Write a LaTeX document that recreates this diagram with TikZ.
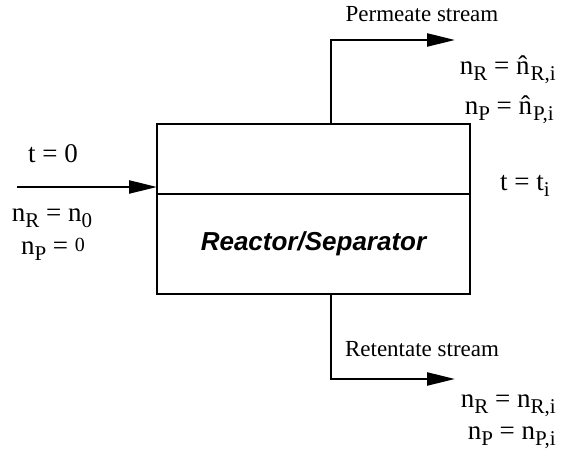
\documentclass[tikz,border=0pt]{standalone}
\usepackage{fontspec}
\setmainfont{Liberation Serif}
\setsansfont{Liberation Sans}
\usetikzlibrary{arrows.meta,positioning}
\newcommand\lo[1]{\raisebox{-0.45ex}{\fontsize{10.5}{10.5}\selectfont #1}}
\newcommand\hatn{n\char"0302\kern0.5pt}
\tikzset{
  vessel/.style={
    rectangle, draw=black, line width=1pt,
    minimum width=156.5pt, inner sep=0pt, outer sep=0pt
  },
  flow/.style={-{Triangle[length=14pt,width=6.5pt]}, line width=1.2pt},
  eqn/.style={font=\fontsize{13.5}{15}\selectfont, inner sep=0pt},
  stream/.style={font=\fontsize{11.5}{13}\selectfont, inner sep=0pt}
}

\begin{document}
\begin{tikzpicture}[x=0.5pt, y=-0.5pt]
  \useasboundingbox (0,0) rectangle (578,458);

  % reactor/separator vessel
  \node[vessel, minimum height=35pt, anchor=north west] (top) at (157,124) {};
  \node[vessel, minimum height=50pt, below=0pt of top,
        font=\sffamily\bfseries\itshape\fontsize{13}{15}\selectfont] (vessel) {Reactor/Separator};

  % stream ends
  \coordinate (feed)     at (17,187);
  \coordinate (permbend) at (331,40);
  \coordinate (permout)  at (455,40);
  \coordinate (retbend)  at (331,379);
  \coordinate (retout)   at (455,379);

  % arrows
  \draw[flow] (feed) -- (feed -| top.west);
  \draw[flow] (permbend |- top.north) -- (permbend) -- (permout);
  \draw[flow] (retbend |- vessel.south) -- (retbend) -- (retout);

  % stream labels
  \node[stream, anchor=base] (permlbl) at (422,22)  {Permeate stream};
  \node[stream, anchor=base] (retlbl)  at (422,357) {Retentate stream};

  % initial state
  \node[eqn, anchor=base] (t0)  at (53,163) {t = 0};
  \node[eqn, anchor=base] (nR0) at (52,222) {n\lo{R} = n\lo{0}};
  \node[eqn, anchor=base] (nP0) at (53,255) {n\lo{P} = \raisebox{0.3ex}{\fontsize{10}{10}\selectfont 0}};

  % state at t_i
  \node[eqn, anchor=base] (ti) at (525,191) {t = t\lo{i}};
  \node[eqn, anchor=base east] (nRp) at (556,75)  {n\lo{R} = \hatn\lo{R,i}};
  \node[eqn, anchor=base east] (nPp) at (554,115) {n\lo{P} = \hatn\lo{P,i}};
  \node[eqn, anchor=base east] (nRr) at (556,408) {n\lo{R} = n\lo{R,i}};
  \node[eqn, anchor=base east] (nPr) at (556,440) {n\lo{P} = n\lo{P,i}};
\end{tikzpicture}
\end{document}
